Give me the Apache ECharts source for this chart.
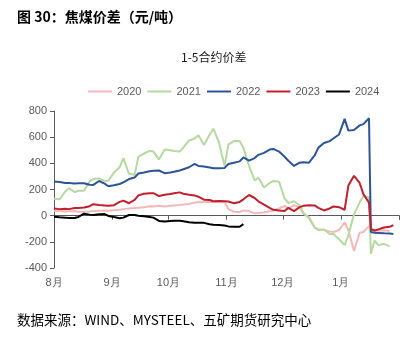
<!DOCTYPE html>
<html>
<head>
<meta charset="utf-8">
<script src="https://cdn.jsdelivr.net/npm/echarts@6/dist/echarts.min.js"></script>
<style>
html,body{margin:0;padding:0;background:#fff;}
#c{width:404px;height:337px;}
</style>
</head>
<body>
<div id="c"></div>
<script>
// Sample dates (MM-DD); Aug–Dec belong to the first year, Jan to the next
var dates = ['08-01','08-04','08-07','08-09','08-12','08-14','08-17','08-20','08-22','08-25','08-28','08-30',
  '09-02','09-05','09-07','09-10','09-13','09-15','09-18','09-21','09-23','09-26','09-29',
  '10-02','10-04','10-07','10-09','10-12','10-15','10-17','10-20','10-23','10-25','10-28','10-31',
  '11-02','11-05','11-08','11-10','11-13','11-16','11-18','11-21','11-24','11-26','11-29',
  '12-02','12-04','12-07','12-10','12-12','12-15','12-18','12-20','12-23','12-26','12-28','12-31',
  '01-03','01-05','01-08','01-11','01-13','01-16','01-17','01-19','01-21','01-24','01-27','01-29'];

var seriesNames = ['2020','2021','2022','2023','2024'];

var v2020 = [35,35,32,33,35,30,30,32,35,38,40,38,
  42,45,50,55,58,60,65,72,70,75,70,
  75,78,82,85,90,100,102,104,105,105,106,106,
  50,30,28,40,35,18,20,25,33,40,55,
  75,55,80,65,15,-10,-90,-105,-110,-120,-125,-110,
  -50,-110,-270,-130,-125,-80,-110,-110,-115,-112,-118,null];

var v2021 = [130,125,185,210,180,190,190,262,280,285,265,268,
  330,370,440,320,312,450,475,495,490,430,505,
  500,495,490,520,575,590,615,540,620,665,560,380,
  545,570,570,520,380,270,290,215,250,265,260,
  130,97,110,80,20,-20,-90,-110,-105,-140,-140,-180,
  -225,-150,10,100,150,140,-290,-190,-225,-215,-235,null];

var v2022 = [262,258,250,250,245,247,248,236,235,265,245,225,
  232,242,255,280,292,322,330,340,343,345,325,
  330,335,345,355,370,395,380,375,368,362,362,365,
  395,405,415,445,420,440,465,480,505,510,490,
  450,420,380,405,408,405,460,520,555,570,590,620,
  740,650,655,690,700,745,-125,-130,-132,-135,-137,-140];

var v2023 = [55,50,52,50,58,58,62,72,88,82,78,75,
  80,105,115,95,120,155,168,172,172,150,160,
  165,172,178,168,160,155,145,122,120,110,112,110,
  108,95,105,125,158,135,110,85,60,45,40,
  35,60,35,65,75,80,78,60,40,55,70,65,
  45,230,305,250,165,100,-100,-115,-105,-90,-85,-72];

var v2024 = [-8,-12,-15,-18,-18,-10,15,8,5,10,12,-2,
  -10,-20,-15,5,5,0,-5,-10,-15,-40,-45,
  -40,-38,-38,-42,-50,-55,-55,-55,-65,-70,-72,-75,
  -82,-85,-85,-65,null,null,null,null,null,null,null,
  null,null,null,null,null,null,null,null,null,null,null,null,
  null,null,null,null,null,null,null,null,null,null,null,null];

var yTicks = {min:-400, max:800, step:200};
var colors = ['#F4B8B8','#B5D9A0','#2E5496','#C0202D','#000000'];

function toTime(s){
  var p = s.split('-'); var m = +p[0], d = +p[1];
  var y = m >= 8 ? 2000 : 2001;
  return new Date(y, m-1, d).getTime();
}
var xMin = new Date(2000,7,1).getTime();
var xMax = new Date(2001,1,1).getTime();
var values = [v2020,v2021,v2022,v2023,v2024];

var series = seriesNames.map(function(n,i){
  return {
    name:n, type:'line', xAxisIndex:0, yAxisIndex:0,
    symbol:'none', showSymbol:false, connectNulls:false,
    lineStyle:{width:2, color:colors[i]}, itemStyle:{color:colors[i]},
    data: dates.map(function(d,k){ return [toTime(d), values[i][k]]; })
  };
});

var chart = echarts.init(document.getElementById('c'), null, {renderer:'canvas'});
var gridRect = {left:54, right:5, top:111, bottom:69};
var day = 86400000;
function monthFmt(v){
  var m = new Date(v).getMonth()+1;
  return m === 2 ? '' : m + '月';
}
chart.setOption({
  animation:false,
  color:colors,
  graphic:[
    {type:'text', left:17, top:10, style:{text:'图 30：焦煤价差（元/吨）', font:'bold 14px "Noto Sans CJK SC"', fill:'#000'}},
    {type:'text', left:181, top:51, style:{text:'1-5合约价差', font:'12px "Noto Sans CJK SC"', fill:'#1a1a1a'}},
    {type:'text', left:17, top:313, style:{text:'数据来源：WIND、MYSTEEL、五矿期货研究中心', font:'13.5px "Noto Sans CJK SC"', fill:'#000'}}
  ],
  legend:{
    data:seriesNames, left:83, top:81, itemWidth:24, itemHeight:2, itemGap:6, icon:'rect',
    textStyle:{color:'#595959', fontSize:11, fontFamily:'Liberation Sans'}
  },
  grid:[
    Object.assign({}, gridRect),
    Object.assign({}, gridRect)
  ],
  xAxis:[
    {type:'time', gridIndex:0, min:xMin, max:xMax, splitNumber:6, minInterval:28*day, maxInterval:31*day,
     axisLine:{onZero:true, lineStyle:{color:'#595959', width:1}},
     axisTick:{show:true, length:4, lineStyle:{color:'#595959'}},
     axisLabel:{show:false}, splitLine:{show:false}},
    {type:'time', gridIndex:1, min:xMin, max:xMax, splitNumber:6, minInterval:28*day, maxInterval:31*day,
     axisLine:{show:false}, axisTick:{show:false}, splitLine:{show:false},
     axisLabel:{show:true, margin:9, color:'#595959', fontSize:11, fontFamily:'Liberation Sans', formatter:monthFmt, showMinLabel:true, showMaxLabel:false, hideOverlap:false}}
  ],
  yAxis:[
    {type:'value', gridIndex:0, min:yTicks.min, max:yTicks.max, interval:yTicks.step,
     axisLine:{show:true, lineStyle:{color:'#595959'}},
     axisTick:{show:true, length:4, lineStyle:{color:'#595959'}},
     axisLabel:{color:'#595959', fontSize:11, fontFamily:'Liberation Sans', margin:7},
     splitLine:{show:false}},
    {type:'value', gridIndex:1, min:yTicks.min, max:yTicks.max, interval:yTicks.step, show:false}
  ],
  series:series
});
</script>
</body>
</html>
